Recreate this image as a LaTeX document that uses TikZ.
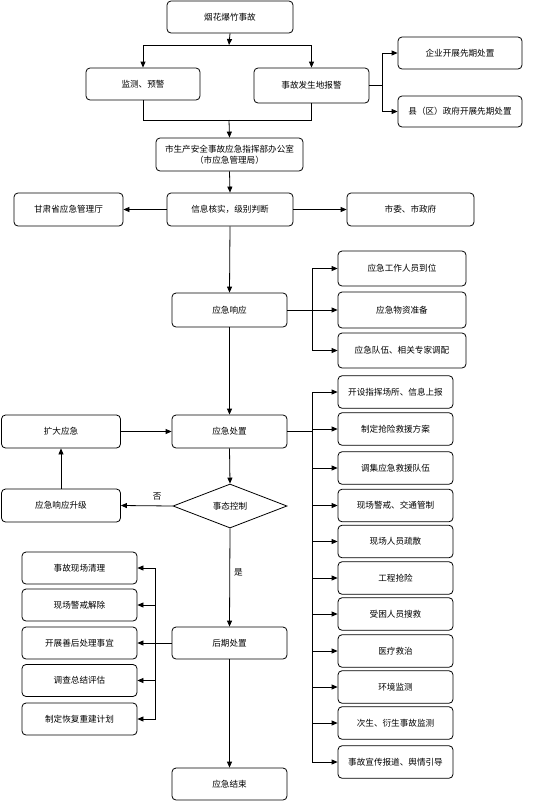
\documentclass[tikz,border=0pt]{standalone}
\usepackage{fontspec}
\newfontfamily\cjk{Noto Sans CJK SC}
\usetikzlibrary{arrows.meta,shapes.geometric}
\begin{document}
\begin{tikzpicture}[x=1pt,y=-1pt,
  every node/.style={font=\cjk\fontsize{8.6}{11}\selectfont},
  box/.style={draw, rounded corners=4pt, line width=0.8pt, inner sep=0pt, align=center},
  arr/.style={-{Triangle[length=6pt,width=5pt]}, line width=0.8pt},
  ln/.style={line width=0.8pt},
  lbl/.style={inner sep=0pt}]
\useasboundingbox (0,0) rectangle (554,801);
% top
\node[box, minimum width=126pt, minimum height=32pt] (n1) at (230,17) {烟花爆竹事故};
\coordinate (jA) at (229,45);
\node[box, minimum width=114pt, minimum height=32pt] (n2) at (143,84) {监测、预警};
\node[box, minimum width=115pt, minimum height=35pt] (n3) at (311.5,85.5) {事故发生地报警};
\node[box, minimum width=124pt, minimum height=32pt] (n4) at (460,53) {企业开展先期处置};
\node[box, minimum width=124pt, minimum height=31pt] (n5) at (460,111.5) {县（区）政府开展先期处置};
\coordinate (jB) at (229,120);
\coordinate (bT) at (382,85.5);
\node[box, minimum width=147pt, minimum height=33pt] (n6) at (229.5,154.5) {市生产安全事故应急指挥部办公室\\（市应急管理局）};
\node[box, minimum width=126pt, minimum height=33pt] (n7) at (230,209.5) {信息核实，级别判断};
\node[box, minimum width=109pt, minimum height=33pt] (n8) at (68.5,209.5) {甘肃省应急管理厅};
\node[box, minimum width=127pt, minimum height=33pt] (n9) at (410.5,209.5) {市委、市政府};
% response
\node[box, minimum width=115pt, minimum height=34pt] (n10) at (229.5,310) {应急响应};
\node[box, minimum width=128pt, minimum height=35pt] (n11) at (402,268.5) {应急工作人员到位};
\node[box, minimum width=128pt, minimum height=36pt] (n12) at (402,310) {应急物资准备};
\node[box, minimum width=128pt, minimum height=35pt] (n13) at (402,350.5) {应急队伍、相关专家调配};
\coordinate (bR) at (312,310);
% disposal
\node[box, minimum width=115pt, minimum height=33pt] (n14) at (229.5,431.5) {应急处置};
\node[box, minimum width=119pt, minimum height=33pt] (n15) at (61,431.5) {扩大应急};
\node[draw, diamond, aspect=2.6, line width=0.8pt, inner sep=0pt, minimum width=114pt, minimum height=44pt] (d) at (230,506) {事态控制};
\node[box, minimum width=119pt, minimum height=33pt] (n16) at (61,505.5) {应急响应升级};
\coordinate (bR2) at (312,431.5);
% right column
\foreach \n/\y/\t in {r1/392/开设指挥场所、信息上报, r2/429/制定抢险救援方案, r3/468/调集应急救援队伍, r4/505.5/现场警戒、交通管制, r5/541.5/现场人员疏散, r6/578/工程抢险, r7/614/受困人员搜救, r8/651/医疗救治, r9/687/环境监测, r10/723/次生、衍生事故监测, r11/762/事故宣传报道、舆情引导}
  \node[box, minimum width=115pt, minimum height=32.5pt] (\n) at (395.5,\y) {\t};
% after
\node[box, minimum width=115pt, minimum height=32pt] (n17) at (229.5,643) {后期处置};
\foreach \n/\y/\t in {l1/568/事故现场清理, l2/605/现场警戒解除, l3/643/开展善后处理事宜, l4/680.5/调查总结评估, l5/719/制定恢复重建计划}
  \node[box, minimum width=115pt, minimum height=32pt] (\n) at (79.5,\y) {\t};
\coordinate (bL) at (155,643);
\node[box, minimum width=115pt, minimum height=32pt] (n18) at (229.5,784) {应急结束};
% connectors
\draw[arr] (n1.south) -- (jA);
\draw[arr] (jA) -| (n2.north);
\draw[arr] (jA) -| (n3.north);
\draw[ln] (n2.south) |- (jB);
\draw[ln] (n3.south) |- (jB);
\draw[arr] (jB) -- (n6.north);
\draw[ln] (n3.east) -- (bT);
\draw[arr] (bT) |- (n4.west);
\draw[arr] (bT) |- (n5.west);
\draw[arr] (n6.south) -- (n7.north);
\draw[arr] (n7.west) -- (n8.east);
\draw[arr] (n7.east) -- (n9.west);
\draw[arr] (n7.south) -- (n10.north);
\draw[ln] (n10.east) -- (bR);
\draw[arr] (bR) |- (n11.west);
\draw[arr] (bR) -- (n12.west);
\draw[arr] (bR) |- (n13.west);
\draw[arr] (n10.south) -- (n14.north);
\draw[arr] (n15.east) -- (n14.west);
\draw[arr] (n14.south) -- (d.north);
\draw[arr] (d.west) -- node[lbl, pos=0.3, above=5pt] {否} (n16.east);
\draw[arr] (n16.north) -- (n15.south);
\draw[ln] (n14.east) -- (bR2);
\foreach \n in {r1,r2,r3,r4,r5,r6,r7,r8,r9,r10,r11}
  \draw[arr] (bR2) |- (\n.west);
\draw[arr] (d.south) -- node[lbl, pos=0.45, right=4pt] {是} (n17.north);
\draw[ln] (n17.west) -- (bL);
\foreach \n in {l1,l2,l3,l4,l5}
  \draw[arr] (bL) |- (\n.east);
\draw[arr] (n17.south) -- (n18.north);
\end{tikzpicture}
\end{document}
